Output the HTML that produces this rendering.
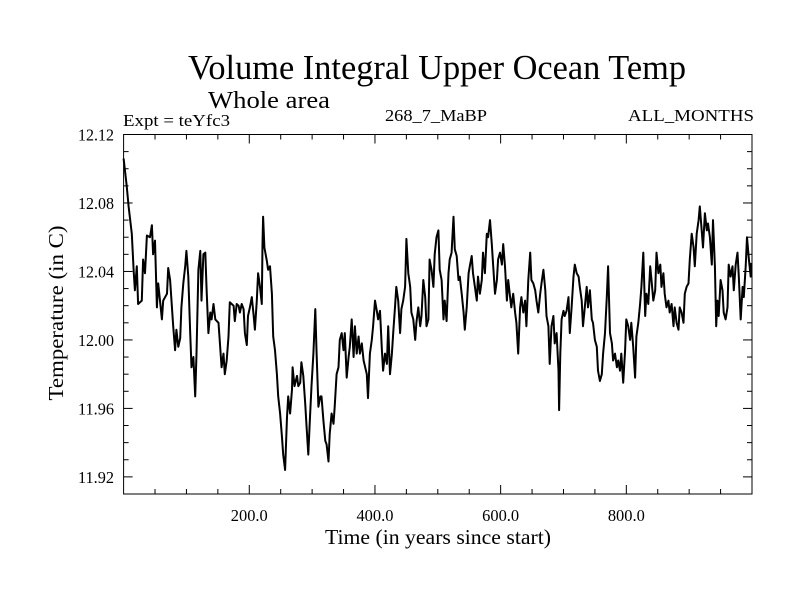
<!DOCTYPE html>
<html><head><meta charset="utf-8"><style>
body{margin:0;background:#fff;}
svg{display:block;font-family:"Liberation Serif",serif;}
</style></head><body>
<svg id="chart" width="800" height="600" viewBox="0 0 800 600">
<text x="188" y="79" font-size="35" textLength="498" lengthAdjust="spacingAndGlyphs">Volume Integral Upper Ocean Temp</text>
<text x="208" y="108" font-size="24" textLength="122" lengthAdjust="spacingAndGlyphs">Whole area</text>
<text x="123" y="126" font-size="17" textLength="107" lengthAdjust="spacingAndGlyphs">Expt = teYfc3</text>
<text x="385" y="121" font-size="17" textLength="102" lengthAdjust="spacingAndGlyphs">268_7_MaBP</text>
<text x="628" y="121" font-size="17" textLength="126" lengthAdjust="spacingAndGlyphs">ALL_MONTHS</text>
<text x="325" y="544" font-size="21" textLength="226" lengthAdjust="spacingAndGlyphs">Time (in years since start)</text>
<text x="0" y="0" font-size="21" textLength="175" lengthAdjust="spacingAndGlyphs" text-anchor="middle" transform="translate(63,313) rotate(-90)">Temperature (in C)</text>
<g id="axes"></g>
<path id="series" fill="none" stroke="#000" stroke-width="2" stroke-linejoin="round"/>
</svg>
<script>
const years=[0,5,8,13,16,18,21,23,29,31,34,37,42,45,47,50,53,55,58,61,63,69,71,74,79,82,84,87,90,92,95,98,100,103,106,108,111,114,116,119,122,124,127,130,132,135,138,140,143,146,151,156,159,161,164,167,169,175,177,180,183,185,188,191,193,196,198,201,204,207,209,212,214,217,220,221,222,224,228,230,233,236,238,241,244,246,249,252,254,257,260,262,265,268,269,272,276,278,281,283,286,289,291,294,296,299,302,305,307,310,313,315,318,321,323,326,328,331,334,336,339,342,344,347,350,352,355,358,360,363,366,368,371,374,376,379,382,387,389,392,395,397,400,403,405,408,411,413,416,419,421,424,427,429,432,434,437,440,442,445,448,450,453,456,458,461,464,466,469,472,474,477,480,482,485,487,490,493,495,498,501,503,506,509,511,514,517,519,522,525,527,530,533,535,538,541,543,546,549,551,554,556,559,562,564,567,570,572,575,578,580,583,586,588,591,594,596,599,602,604,607,610,612,615,617,620,623,625,628,631,633,636,639,641,644,647,649,652,655,657,660,663,665,668,671,673,676,678,681,684,686,689,692,693,695,697,700,702,705,708,710,713,716,718,721,724,726,729,731,734,737,739,742,745,747,750,753,755,758,761,763,766,769,771,774,777,779,782,785,787,790,792,795,798,800,803,806,808,811,814,816,819,822,824,827,830,832,835,838,840,843,846,848,851,854,856,859,861,864,867,869,872,875,877,880,883,885,888,891,893,896,899,901,904,907,909,912,915,917,920,922,925,928,930,933,936,938,941,943,945,947,950,953,955,958,961,963,966,969,971,974,977,979,982,985,987,990,992,995,998,999];
const temps=[12.106,12.09,12.078,12.062,12.04,12.029,12.043,12.021,12.023,12.047,12.039,12.061,12.06,12.067,12.05,12.058,12.019,12.033,12.023,12.012,12.023,12.027,12.042,12.035,12.008,11.994,12.006,11.996,12.001,12.019,12.033,12.043,12.052,12.037,12.004,11.984,11.99,11.967,11.992,12.041,12.052,12.023,12.05,12.051,12.031,12.004,12.016,12.012,12.021,12.012,12.01,11.984,11.992,11.98,11.988,12.002,12.022,12.02,12.011,12.021,12.02,12.016,12.021,12.018,12.004,11.997,12.014,12.019,12.025,12.014,12.006,12.023,12.039,12.031,12.021,12.056,12.072,12.054,12.046,12.041,12.043,12.027,12.002,11.994,11.98,11.967,11.957,11.943,11.933,11.924,11.955,11.967,11.957,11.971,11.984,11.973,11.979,11.973,11.975,11.987,11.979,11.963,11.95,11.933,11.95,11.973,11.992,12.018,11.994,11.961,11.967,11.967,11.953,11.941,11.939,11.929,11.945,11.957,11.951,11.961,11.98,11.984,12.0,12.004,11.994,12.004,11.978,11.99,11.996,12.012,11.99,12.008,11.992,12.002,11.992,11.998,11.988,11.98,11.966,11.992,12.0,12.008,12.023,12.017,12.012,12.017,11.994,11.982,11.992,11.986,12.008,11.98,11.992,12.004,12.02,12.031,12.023,12.004,12.018,12.023,12.031,12.059,12.039,12.031,12.016,12.012,12.0,12.01,12.019,12.008,12.014,12.035,12.025,12.008,12.012,12.047,12.041,12.031,12.05,12.06,12.064,12.041,12.035,12.012,12.023,12.011,12.039,12.047,12.051,12.072,12.053,12.049,12.035,12.037,12.027,12.016,12.006,12.019,12.039,12.043,12.049,12.039,12.031,12.023,12.037,12.027,12.035,12.051,12.039,12.062,12.06,12.07,12.056,12.044,12.027,12.035,12.047,12.051,12.044,12.056,12.043,12.023,12.035,12.025,12.019,12.027,12.016,12.01,11.992,12.019,12.025,12.016,12.023,12.008,12.035,12.051,12.035,12.033,12.029,12.023,12.016,12.027,12.033,12.041,12.029,12.014,12.008,11.986,12.008,12.014,11.998,12.004,11.982,11.959,11.992,12.012,12.017,12.014,12.017,12.025,12.004,12.019,12.037,12.044,12.039,12.037,12.031,12.023,12.008,12.019,12.031,12.019,12.029,12.012,12.01,12.0,11.996,11.982,11.976,11.98,11.992,12.004,12.025,12.043,12.004,11.998,11.988,11.992,11.984,11.988,11.982,11.992,11.975,11.994,12.012,12.008,12.0,12.01,11.996,11.978,12.002,12.01,12.021,12.031,12.051,12.014,12.027,12.021,12.043,12.035,12.023,12.029,12.051,12.039,12.044,12.031,12.039,12.027,12.019,12.023,12.016,12.021,12.008,12.019,12.01,12.006,12.019,12.016,12.01,12.027,12.031,12.033,12.047,12.062,12.054,12.043,12.062,12.07,12.078,12.064,12.054,12.074,12.064,12.068,12.06,12.044,12.07,12.043,12.008,12.023,12.014,12.035,12.029,12.016,12.012,12.019,12.044,12.037,12.043,12.029,12.044,12.051,12.037,12.012,12.031,12.025,12.043,12.06,12.047,12.037,12.045];
const xTicks=[200,400,600,800];
const xTickLabels=["200.0","400.0","600.0","800.0"];
const yTicks=[11.92,11.96,12.00,12.04,12.08,12.12];
const yTickLabels=["11.92","11.96","12.00","12.04","12.08","12.12"];
const L=123.6,R=752,T=134.5,B=494,X0=0,X1=1000,Y0=11.91,Y1=12.12;
const sx=v=>L+(v-X0)/(X1-X0)*(R-L);
const sy=v=>B-(v-Y0)/(Y1-Y0)*(B-T);
const NS="http://www.w3.org/2000/svg";
const g=document.getElementById('axes');
function mk(tag,attrs){const e=document.createElementNS(NS,tag);for(const k in attrs)e.setAttribute(k,attrs[k]);g.appendChild(e);return e;}
const frame=mk('rect',{x:L,y:T,width:R-L,height:B-T,fill:'none',stroke:'#000','stroke-width':1});


for(let v=50;v<X1;v+=50){
  const major=v%200===0;const len=major?9:5;const x=sx(v);
  const t1=mk('line',{x1:x,y1:B,x2:x,y2:B-len,stroke:'#000'});
  
  
  const t2=mk('line',{x1:x,y1:T,x2:x,y2:T+len,stroke:'#000'});
  
  
}
for(let i=0;i<=21;i++){
  const v=Y0+i*0.01;const major=(i%4===1);const len=major?9:5;const y=sy(v);
  const a=mk('line',{x1:L,y1:y,x2:L+len,y2:y,stroke:'#000'});
  
  
  const b=mk('line',{x1:R,y1:y,x2:R-len,y2:y,stroke:'#000'});
  
  
}
xTicks.forEach((v,i)=>{
  const t=mk('text',{x:sx(v)-18.5,y:521,'font-size':17,textLength:37,lengthAdjust:'spacingAndGlyphs'});
  t.textContent=xTickLabels[i];
  
  
});
yTicks.forEach((v,i)=>{
  const t=mk('text',{x:78,y:sy(v)+6,'font-size':17,textLength:36,lengthAdjust:'spacingAndGlyphs'});
  t.textContent=yTickLabels[i];
  
  
});
document.getElementById('series').setAttribute('d',years.map((y,i)=>(i?'L':'M')+sx(y).toFixed(1)+','+sy(temps[i]).toFixed(1)).join(''));
</script>
</body></html>
